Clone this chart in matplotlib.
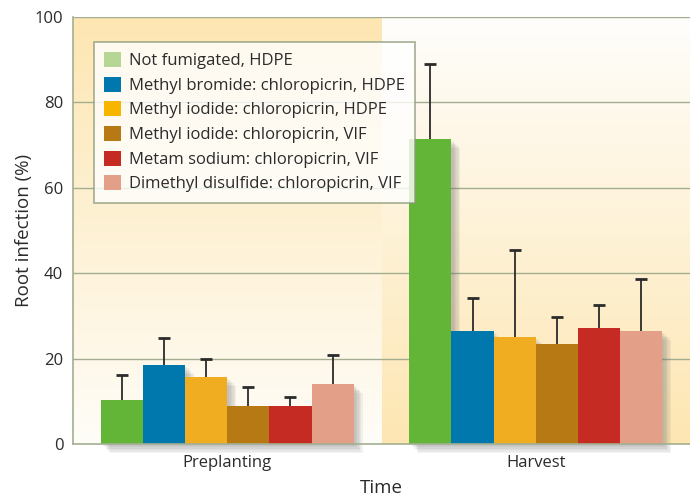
import matplotlib.pyplot as plt
import matplotlib.patheffects as pe
from matplotlib.patches import Patch
from matplotlib.colors import LinearSegmentedColormap
import numpy as np

plt.rcParams['font.family'] = ['Open Sans', 'DejaVu Sans']

# ── Data ──────────────────────────────────────────────────────────────────────
groups = ["Preplanting", "Harvest"]
treatments = [
    "Not fumigated, HDPE",
    "Methyl bromide: chloropicrin, HDPE",
    "Methyl iodide: chloropicrin, HDPE",
    "Methyl iodide: chloropicrin, VIF",
    "Metam sodium: chloropicrin, VIF",
    "Dimethyl disulfide: chloropicrin, VIF",
]
preplant_vals = [10.3, 18.5, 15.7, 8.9, 8.9, 14.1]
preplant_err = [5.9, 6.4, 4.2, 4.4, 2.2, 6.8]
harvest_vals = [71.4, 26.5, 25.1, 23.4, 27.2, 26.5]
harvest_err = [17.7, 7.7, 20.3, 6.3, 5.4, 12.1]

BAR_COLORS = ["#62b536", "#0077ad", "#f0ad22", "#b77914", "#c52b22", "#e39f87"]
LEGEND_COLORS = ["#b5d695", "#0077ad", "#f8b500", "#b77914", "#c52b22", "#e39f87"]
GRID_COLOR = "#a3ae91"
TEXT_COLOR = "#2b2b2b"

fig = plt.figure(figsize=(6.9, 4.97), dpi=100)
ax = fig.add_axes([73 / 690, 1 - 444 / 497, 617 / 690, 427 / 497])

# gradient backgrounds: left panel warm at top, right panel warm at bottom
warm = "#fde6b2"
cmap_l = LinearSegmentedColormap.from_list("l", ["#fffdf8", warm])
cmap_r = LinearSegmentedColormap.from_list("r", ["#fffefc", warm])
grad = np.linspace(0, 1, 256).reshape(-1, 1)
ax.imshow(grad, extent=(-0.5, 0.5, 0, 100), origin="lower", cmap=cmap_l,
          aspect="auto", zorder=0)
ax.imshow(grad[::-1], extent=(0.5, 1.5, 0, 100), origin="lower", cmap=cmap_r,
          aspect="auto", zorder=0)

# soft drop shadow built from a few stacked offsets
shadow = [pe.SimplePatchShadow(offset=(d, -d), shadow_rgbFace="#6b6b6b", alpha=0.08)
          for d in (1.5, 2.5, 3.5, 4.5, 5.5, 6.5)]

width = 0.1366
x = np.arange(len(groups))
for i, color in enumerate(BAR_COLORS):
    pos = x + (i - 2.5) * width
    vals = [preplant_vals[i], harvest_vals[i]]
    errs = [preplant_err[i], harvest_err[i]]
    _, caps, _ = ax.errorbar(pos, vals, yerr=[[0, 0], errs], fmt="none",
                             ecolor=TEXT_COLOR, elinewidth=1.3, capsize=4,
                             capthick=2, zorder=2)
    caps[0].set_visible(False)
    bars = ax.bar(pos, vals, width=width, color=color, zorder=3)
    for b in bars:
        b.set_clip_on(False)
        b.set_path_effects(shadow + [pe.Normal()])

for y in [20, 40, 60, 80, 100]:
    ax.axhline(y, color=GRID_COLOR, lw=1.0, zorder=1)

ax.set_xlim(-0.5, 1.5)
ax.set_ylim(0, 100)
ax.set_yticks([0, 20, 40, 60, 80, 100])
ax.set_xticks(x)
ax.set_xticklabels(groups)
ax.tick_params(length=0, labelsize=12, colors=TEXT_COLOR, pad=7)
ax.tick_params(axis="x", pad=8)
for s in ["top", "right"]:
    ax.spines[s].set_visible(False)
for s in ["left", "bottom"]:
    ax.spines[s].set_color(GRID_COLOR)
    ax.spines[s].set_linewidth(1.2)
    ax.spines[s].set_zorder(5)

ax.set_ylabel("Root infection (%)", fontsize=13.5, color=TEXT_COLOR, labelpad=1)
ax.set_xlabel("Time", fontsize=13.5, color=TEXT_COLOR, labelpad=6)

handles = [Patch(facecolor=c, edgecolor="none") for c in LEGEND_COLORS]
leg = ax.legend(handles, treatments, loc="upper left",
                bbox_to_anchor=(21 / 617, 402 / 427), borderaxespad=0,
                fontsize=12, frameon=True, fancybox=False, handlelength=1.0,
                handleheight=1.0, handletextpad=0.5, labelspacing=0.45,
                borderpad=0.6, labelcolor=TEXT_COLOR)
leg.get_frame().set_edgecolor("#8c9a7a")
leg.get_frame().set_linewidth(1.2)
leg.set_zorder(6)

fig.savefig("out.png", dpi=100)
